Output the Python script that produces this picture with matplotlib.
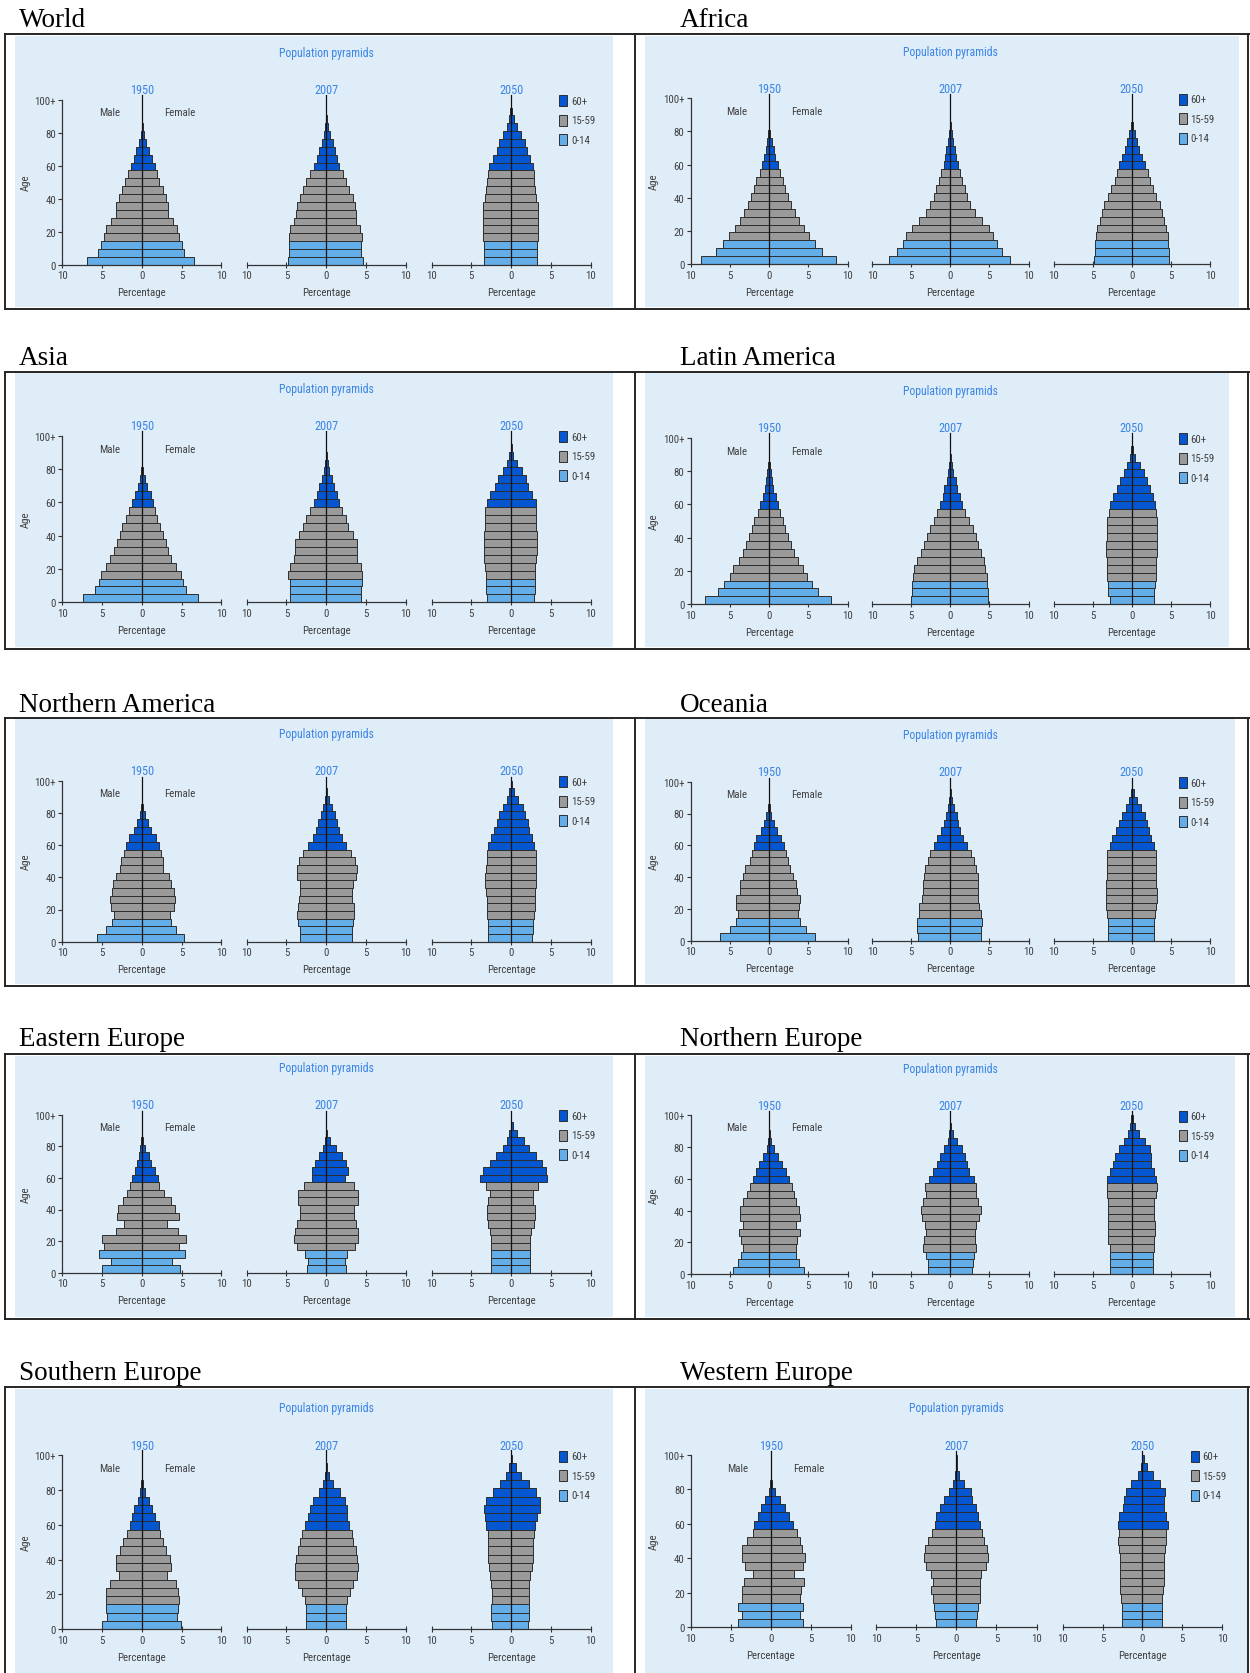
import matplotlib
matplotlib.use('Agg')
import matplotlib.pyplot as plt
from matplotlib.patches import Rectangle
from matplotlib import font_manager

# 21 five-year age groups, 0-4 ... 100+
AGE_GROUPS = ['0-4', '5-9', '10-14', '15-19', '20-24', '25-29', '30-34', '35-39',
              '40-44', '45-49', '50-54', '55-59', '60-64', '65-69', '70-74', '75-79',
              '80-84', '85-89', '90-94', '95-99', '100+']
YEARS = ['1950', '2007', '2050']
REGIONS = ['World', 'Africa', 'Asia', 'Latin America', 'Northern America', 'Oceania',
           'Eastern Europe', 'Northern Europe', 'Southern Europe', 'Western Europe']
X_TICKS = [-10, -5, 0, 5, 10]
X_TICK_LABELS = ['10', '5', '0', '5', '10']
Y_TICKS = [0, 20, 40, 60, 80, 100]
Y_TICK_LABELS = ['0', '20', '40', '60', '80', '100+']
LEGEND_LABELS = ['60+', '15-59', '0-14']

# percentage of each sex in the age group
world_1950_m = [6.9, 5.5, 5.2, 4.8, 4.5, 3.9, 3.3, 3.2, 2.9, 2.5, 2.1, 1.7, 1.4, 1.0, 0.7, 0.4, 0.17, 0.05, 0.01, 0, 0]
world_1950_f = [6.5, 5.3, 5.0, 4.7, 4.4, 3.9, 3.3, 3.3, 3.0, 2.65, 2.2, 1.9, 1.6, 1.25, 0.85, 0.5, 0.25, 0.08, 0.02, 0, 0]
world_2007_m = [4.8, 4.7, 4.7, 4.7, 4.5, 4.0, 3.85, 3.7, 3.3, 2.95, 2.5, 2.05, 1.5, 1.2, 0.9, 0.58, 0.3, 0.12, 0.03, 0.01, 0]
world_2007_f = [4.6, 4.4, 4.4, 4.5, 4.3, 3.8, 3.7, 3.6, 3.35, 2.85, 2.55, 2.15, 1.65, 1.4, 1.15, 0.82, 0.53, 0.25, 0.08, 0.02, 0]
world_2050_m = [3.45, 3.45, 3.45, 3.55, 3.55, 3.55, 3.55, 3.55, 3.3, 3.1, 3.0, 2.9, 2.75, 2.25, 1.8, 1.45, 0.95, 0.5, 0.24, 0.08, 0.02]
world_2050_f = [3.3, 3.3, 3.3, 3.4, 3.4, 3.4, 3.4, 3.4, 3.1, 3.0, 2.9, 2.9, 2.8, 2.4, 2.05, 1.75, 1.25, 0.77, 0.39, 0.15, 0.04]

africa_1950_m = [8.7, 6.7, 5.8, 5.05, 4.35, 3.75, 3.2, 2.7, 2.3, 1.95, 1.6, 1.2, 0.9, 0.7, 0.4, 0.25, 0.12, 0.04, 0.01, 0, 0]
africa_1950_f = [8.55, 6.7, 5.85, 5.1, 4.4, 3.8, 3.3, 2.8, 2.45, 2.05, 1.75, 1.45, 1.1, 0.8, 0.6, 0.35, 0.18, 0.06, 0.01, 0, 0]
africa_2007_m = [7.85, 6.8, 6.05, 5.6, 4.85, 4.05, 3.15, 2.55, 2.1, 1.8, 1.5, 1.2, 0.85, 0.65, 0.5, 0.3, 0.15, 0.05, 0.01, 0, 0]
africa_2007_f = [7.65, 6.65, 6.0, 5.5, 4.9, 4.0, 3.15, 2.5, 2.15, 1.85, 1.55, 1.3, 0.95, 0.75, 0.6, 0.35, 0.18, 0.07, 0.01, 0, 0]
africa_2050_m = [4.8, 4.7, 4.7, 4.6, 4.4, 4.05, 3.8, 3.5, 3.05, 2.6, 2.2, 1.85, 1.6, 1.25, 0.85, 0.55, 0.3, 0.1, 0.03, 0, 0]
africa_2050_f = [4.8, 4.7, 4.6, 4.6, 4.4, 4.15, 3.9, 3.55, 3.15, 2.65, 2.35, 2.05, 1.65, 1.35, 0.95, 0.65, 0.35, 0.15, 0.04, 0.01, 0]

asia_1950_m = [7.4, 5.85, 5.4, 5.1, 4.55, 4.0, 3.45, 3.1, 2.75, 2.45, 1.95, 1.65, 1.3, 0.9, 0.5, 0.26, 0.1, 0.03, 0.01, 0, 0]
asia_1950_f = [7.1, 5.6, 5.2, 4.9, 4.3, 3.7, 3.3, 3.0, 2.65, 2.3, 1.95, 1.65, 1.45, 1.1, 0.7, 0.36, 0.12, 0.04, 0.01, 0, 0]
asia_2007_m = [4.55, 4.55, 4.55, 4.8, 4.55, 4.1, 3.95, 3.95, 3.4, 2.95, 2.6, 2.1, 1.5, 1.15, 0.85, 0.55, 0.3, 0.12, 0.03, 0.01, 0]
asia_2007_f = [4.4, 4.4, 4.45, 4.55, 4.4, 3.9, 3.9, 3.9, 3.4, 2.8, 2.55, 2.05, 1.55, 1.35, 1.0, 0.7, 0.4, 0.18, 0.05, 0.01, 0]
asia_2050_m = [3.05, 3.2, 3.2, 3.2, 3.3, 3.45, 3.45, 3.45, 3.35, 3.25, 3.25, 3.25, 3.05, 2.6, 2.0, 1.6, 1.0, 0.5, 0.2, 0.06, 0.01]
asia_2050_f = [2.9, 3.0, 3.0, 3.0, 3.0, 3.2, 3.3, 3.3, 3.25, 3.1, 3.1, 3.1, 3.1, 2.65, 2.2, 1.9, 1.4, 0.8, 0.3, 0.1, 0.02]

latam_1950_m = [8.15, 6.5, 5.7, 5.0, 4.55, 3.85, 3.25, 2.9, 2.5, 2.2, 1.85, 1.45, 1.1, 0.8, 0.55, 0.35, 0.2, 0.08, 0.02, 0, 0]
latam_1950_f = [7.9, 6.3, 5.5, 4.8, 4.35, 3.75, 3.15, 2.8, 2.4, 2.05, 1.8, 1.45, 1.15, 0.85, 0.55, 0.35, 0.2, 0.1, 0.03, 0.01, 0]
latam_2007_m = [5.0, 4.95, 4.85, 4.8, 4.6, 4.3, 3.8, 3.4, 3.0, 2.55, 2.1, 1.7, 1.25, 0.95, 0.75, 0.45, 0.25, 0.1, 0.03, 0.01, 0]
latam_2007_f = [4.8, 4.8, 4.75, 4.7, 4.5, 4.3, 3.95, 3.6, 3.3, 2.85, 2.45, 1.9, 1.55, 1.25, 0.9, 0.7, 0.4, 0.2, 0.07, 0.02, 0]
latam_2050_m = [2.85, 3.0, 3.1, 3.15, 3.2, 3.2, 3.25, 3.3, 3.2, 3.2, 3.15, 2.9, 2.75, 2.4, 1.95, 1.55, 1.05, 0.55, 0.25, 0.06, 0.01]
latam_2050_f = [2.85, 2.85, 2.95, 3.05, 3.1, 3.15, 3.2, 3.25, 3.25, 3.25, 3.2, 3.15, 3.0, 2.75, 2.35, 2.0, 1.5, 1.0, 0.45, 0.15, 0.03]

namer_1950_m = [5.6, 4.45, 3.7, 3.5, 3.9, 4.05, 3.7, 3.6, 3.3, 2.75, 2.6, 2.3, 2.05, 1.65, 1.05, 0.65, 0.3, 0.1, 0.03, 0, 0]
namer_1950_f = [5.35, 4.3, 3.7, 3.55, 4.0, 4.1, 4.0, 3.7, 3.4, 2.7, 2.7, 2.45, 2.1, 1.8, 1.2, 0.8, 0.4, 0.15, 0.04, 0.01, 0]
namer_2007_m = [3.35, 3.35, 3.55, 3.65, 3.55, 3.4, 3.3, 3.3, 3.65, 3.7, 3.4, 2.9, 2.25, 1.7, 1.3, 1.05, 0.65, 0.35, 0.15, 0.04, 0.01]
namer_2007_f = [3.3, 3.25, 3.4, 3.5, 3.5, 3.25, 3.25, 3.4, 3.75, 3.9, 3.6, 3.1, 2.5, 1.95, 1.65, 1.4, 1.05, 0.7, 0.3, 0.1, 0.02]
namer_2050_m = [2.85, 2.9, 2.9, 3.0, 3.05, 3.05, 3.15, 3.3, 3.3, 3.15, 3.05, 3.05, 2.85, 2.55, 2.2, 1.8, 1.45, 0.95, 0.5, 0.2, 0.05]
namer_2050_f = [2.7, 2.75, 2.75, 2.9, 3.0, 3.0, 3.0, 3.15, 3.2, 3.1, 3.1, 3.1, 2.9, 2.7, 2.3, 2.1, 1.8, 1.45, 0.9, 0.4, 0.12]

oceania_1950_m = [6.25, 5.0, 4.25, 3.95, 4.15, 4.15, 3.75, 3.75, 3.3, 3.0, 2.45, 2.15, 1.95, 1.6, 1.05, 0.65, 0.35, 0.12, 0.03, 0, 0]
oceania_1950_f = [5.85, 4.75, 3.95, 3.7, 3.8, 3.95, 3.55, 3.5, 3.05, 2.65, 2.4, 2.15, 1.85, 1.55, 1.0, 0.6, 0.3, 0.15, 0.04, 0.01, 0]
oceania_2007_m = [4.1, 4.2, 4.2, 4.05, 3.95, 3.55, 3.45, 3.45, 3.4, 3.25, 2.9, 2.6, 2.1, 1.65, 1.2, 0.85, 0.6, 0.3, 0.1, 0.02, 0]
oceania_2007_f = [3.95, 3.95, 4.0, 3.9, 3.7, 3.55, 3.55, 3.6, 3.5, 3.35, 3.0, 2.6, 2.15, 1.65, 1.3, 1.05, 0.9, 0.5, 0.2, 0.06, 0.01]
oceania_2050_m = [3.05, 3.05, 3.05, 3.15, 3.25, 3.35, 3.35, 3.3, 3.2, 3.2, 3.2, 3.15, 2.85, 2.5, 2.0, 1.65, 1.25, 0.8, 0.4, 0.15, 0.03]
oceania_2050_f = [2.9, 2.9, 2.9, 3.0, 3.1, 3.2, 3.2, 3.1, 3.05, 3.1, 3.1, 3.05, 2.85, 2.5, 2.2, 2.0, 1.65, 1.2, 0.7, 0.3, 0.06]

eeurope_1950_m = [4.95, 3.9, 5.35, 4.7, 5.0, 3.25, 2.25, 3.1, 3.0, 2.4, 1.9, 1.55, 1.2, 0.9, 0.6, 0.4, 0.25, 0.1, 0.02, 0, 0]
eeurope_1950_f = [4.8, 3.8, 5.4, 4.65, 5.55, 4.5, 3.2, 4.6, 4.1, 3.6, 2.8, 2.2, 2.05, 1.6, 1.2, 0.85, 0.4, 0.15, 0.04, 0.01, 0]
eeurope_2007_m = [2.45, 2.35, 2.65, 3.65, 4.1, 3.95, 3.7, 3.25, 3.3, 3.55, 3.5, 2.8, 1.8, 1.8, 1.35, 0.95, 0.4, 0.2, 0.08, 0.01, 0]
eeurope_2007_f = [2.45, 2.35, 2.6, 3.6, 4.05, 3.95, 3.8, 3.5, 3.55, 3.95, 4.05, 3.55, 2.35, 2.8, 2.45, 2.0, 1.25, 0.5, 0.15, 0.03, 0]
eeurope_2050_m = [2.5, 2.55, 2.55, 2.55, 2.55, 2.7, 2.9, 3.05, 3.05, 2.85, 2.65, 3.15, 3.85, 3.5, 2.65, 1.9, 1.05, 0.55, 0.2, 0.05, 0.01]
eeurope_2050_f = [2.35, 2.4, 2.4, 2.4, 2.4, 2.5, 2.85, 3.0, 3.0, 2.8, 2.8, 3.4, 4.5, 4.4, 3.9, 3.15, 2.25, 1.6, 0.8, 0.25, 0.04]

neurope_1950_m = [4.6, 4.0, 3.55, 3.3, 3.55, 3.8, 3.3, 3.7, 3.7, 3.3, 2.8, 2.4, 2.05, 1.7, 1.3, 0.8, 0.3, 0.15, 0.04, 0.01, 0]
neurope_1950_f = [4.4, 3.8, 3.5, 3.4, 3.55, 3.9, 3.5, 3.9, 3.8, 3.5, 3.15, 2.9, 2.6, 2.2, 1.7, 1.2, 0.6, 0.3, 0.08, 0.01, 0]
neurope_2007_m = [2.85, 2.85, 3.15, 3.45, 3.35, 3.15, 3.25, 3.55, 3.75, 3.45, 3.05, 3.2, 2.75, 2.15, 1.7, 1.3, 0.8, 0.35, 0.15, 0.04, 0.01]
neurope_2007_f = [2.75, 2.85, 3.05, 3.3, 3.2, 3.15, 3.3, 3.7, 3.95, 3.6, 3.25, 3.3, 3.05, 2.45, 2.15, 1.85, 1.5, 0.9, 0.4, 0.1, 0.02]
neurope_2050_m = [2.75, 2.75, 2.75, 2.85, 3.05, 3.1, 3.1, 3.0, 3.0, 3.0, 3.15, 3.15, 3.2, 2.8, 2.45, 2.15, 1.7, 1.05, 0.45, 0.2, 0.05]
neurope_2050_f = [2.65, 2.65, 2.65, 2.8, 2.85, 3.0, 3.0, 2.85, 2.85, 2.9, 3.05, 3.25, 3.15, 2.8, 2.5, 2.5, 2.35, 1.75, 0.95, 0.4, 0.12]

seurope_1950_m = [5.05, 4.35, 4.55, 4.55, 4.45, 3.95, 2.85, 3.2, 3.2, 2.75, 2.35, 1.85, 1.55, 1.25, 0.95, 0.55, 0.25, 0.1, 0.03, 0, 0]
seurope_1950_f = [4.95, 4.35, 4.5, 4.65, 4.5, 4.3, 3.2, 3.6, 3.55, 3.05, 2.7, 2.3, 2.15, 1.6, 1.25, 0.9, 0.4, 0.2, 0.05, 0.01, 0]
seurope_2007_m = [2.6, 2.6, 2.6, 2.7, 3.1, 3.6, 3.95, 3.95, 3.85, 3.6, 3.3, 3.1, 2.65, 2.3, 2.1, 1.65, 0.95, 0.35, 0.15, 0.03, 0.01]
seurope_2007_f = [2.45, 2.45, 2.5, 2.65, 2.95, 3.4, 3.9, 3.95, 3.9, 3.7, 3.35, 3.2, 2.85, 2.65, 2.65, 2.35, 1.7, 0.8, 0.3, 0.08, 0.01]
seurope_2050_m = [2.45, 2.5, 2.5, 2.45, 2.4, 2.5, 2.6, 2.8, 2.95, 2.95, 2.9, 2.95, 3.15, 3.3, 3.4, 3.1, 2.3, 1.4, 0.6, 0.2, 0.04]
seurope_2050_f = [2.2, 2.3, 2.3, 2.3, 2.25, 2.3, 2.35, 2.6, 2.8, 2.8, 2.8, 2.9, 3.0, 3.3, 3.65, 3.7, 3.1, 2.3, 1.25, 0.6, 0.15]

weurope_1950_m = [4.05, 3.65, 4.05, 3.65, 3.65, 3.35, 2.2, 3.25, 3.55, 3.55, 2.95, 2.25, 2.05, 1.65, 1.25, 0.75, 0.25, 0.1, 0.03, 0, 0]
weurope_1950_f = [4.05, 3.65, 4.05, 3.7, 3.8, 4.2, 2.85, 4.05, 4.3, 3.95, 3.65, 3.25, 2.75, 2.3, 1.8, 1.15, 0.55, 0.2, 0.05, 0.01, 0]
weurope_2007_m = [2.55, 2.65, 2.8, 2.9, 3.15, 2.9, 3.2, 3.8, 4.1, 3.9, 3.5, 3.05, 2.65, 2.5, 2.0, 1.55, 0.95, 0.45, 0.15, 0.04, 0.01]
weurope_2007_f = [2.45, 2.55, 2.75, 2.9, 3.0, 2.9, 3.1, 3.75, 4.0, 3.8, 3.5, 3.25, 2.9, 2.75, 2.4, 2.0, 1.85, 0.9, 0.35, 0.1, 0.02]
weurope_2050_m = [2.55, 2.55, 2.55, 2.65, 2.8, 2.85, 2.85, 2.85, 2.85, 2.95, 3.05, 2.95, 3.1, 2.9, 2.5, 2.3, 2.1, 1.4, 0.6, 0.2, 0.05]
weurope_2050_f = [2.4, 2.45, 2.45, 2.5, 2.6, 2.65, 2.65, 2.7, 2.75, 2.85, 3.0, 3.0, 3.2, 3.0, 2.75, 2.75, 2.8, 2.2, 1.3, 0.6, 0.15]

PYRAMIDS = {
    'World': [(world_1950_m, world_1950_f), (world_2007_m, world_2007_f), (world_2050_m, world_2050_f)],
    'Africa': [(africa_1950_m, africa_1950_f), (africa_2007_m, africa_2007_f), (africa_2050_m, africa_2050_f)],
    'Asia': [(asia_1950_m, asia_1950_f), (asia_2007_m, asia_2007_f), (asia_2050_m, asia_2050_f)],
    'Latin America': [(latam_1950_m, latam_1950_f), (latam_2007_m, latam_2007_f), (latam_2050_m, latam_2050_f)],
    'Northern America': [(namer_1950_m, namer_1950_f), (namer_2007_m, namer_2007_f), (namer_2050_m, namer_2050_f)],
    'Oceania': [(oceania_1950_m, oceania_1950_f), (oceania_2007_m, oceania_2007_f), (oceania_2050_m, oceania_2050_f)],
    'Eastern Europe': [(eeurope_1950_m, eeurope_1950_f), (eeurope_2007_m, eeurope_2007_f), (eeurope_2050_m, eeurope_2050_f)],
    'Northern Europe': [(neurope_1950_m, neurope_1950_f), (neurope_2007_m, neurope_2007_f), (neurope_2050_m, neurope_2050_f)],
    'Southern Europe': [(seurope_1950_m, seurope_1950_f), (seurope_2007_m, seurope_2007_f), (seurope_2050_m, seurope_2050_f)],
    'Western Europe': [(weurope_1950_m, weurope_1950_f), (weurope_2007_m, weurope_2007_f), (weurope_2050_m, weurope_2050_f)],
}

# colours
C_OLD = '#0457d0'
C_ADULT = '#9a9a9a'
C_YOUNG = '#63aee9'
EDGE = '#2e2e2e'
BG = '#dfedf9'
BLUE_TXT = '#3a84e6'
TXT = '#404040'
FRAME = '#262626'

names = {f.name for f in font_manager.fontManager.ttflist}
SANS = 'DejaVu Sans'
for cand in ['Liberation Sans Narrow', 'Roboto Condensed', 'Open Sans Condensed']:
    if cand in names:
        SANS = cand
        break
SERIF = 'Liberation Serif'
plt.rcParams['font.family'] = [SANS, 'DejaVu Sans']

W, H = 1250, 1674
fig = plt.figure(figsize=(W / 100, H / 100), dpi=100)
fig.patch.set_facecolor('white')

# page layer in pixel coordinates (y down)
page = fig.add_axes([0, 0, 1, 1])
page.set_xlim(0, W)
page.set_ylim(H, 0)
page.axis('off')

ROW_TOP = [35, 372.7, 718.8, 1055.2, 1388.3]
ROW_BOT = [310, 650.4, 986.5, 1319.5, H + 5]
ROW_TITLE_Y = [20, 358, 705, 1039, 1373]
RIGHT_BG_END = [1239, 1229, 1235, 1235, 1248]
ROW_Y_LEFT = [(265.7, 100.7), (603.3, 436.7), (942.7, 781.7), (1273.7, 1115.7), (1630.3, 1456)]
ROW_Y_RIGHT = [(265, 99.3), (605.3, 438.7), (941.7, 782.7), (1275.3, 1116), (1628.3, 1456)]
LEFT_X = [(62.3, 221.5), (246.7, 405.7), (431.5, 590.5)]
RIGHT_X = [(690.5, 847.5), (872, 1028.5), (1053.6, 1210)]
WEU_X = [(691, 850.6), (876.4, 1036.5), (1062.8, 1222.1)]

for r in range(5):
    top, bot = ROW_TOP[r], ROW_BOT[r]
    page.add_patch(Rectangle((14.5, top + 1.5), 613 - 14.5, bot - top - 3.5,
                             facecolor=BG, edgecolor='none', zorder=0))
    page.add_patch(Rectangle((644.5, top + 1.5), RIGHT_BG_END[r] - 644.5, bot - top - 3.5,
                             facecolor=BG, edgecolor='none', zorder=0))
    page.plot([5, W], [top, top], color=FRAME, lw=1.4, zorder=1)
    if r < 4:
        page.plot([5, W], [bot, bot], color=FRAME, lw=1.4, zorder=1)
    for xv in (5, 635, W - 2):
        page.plot([xv, xv], [top, min(bot, H)], color=FRAME, lw=1.4, zorder=1)


def draw_pyramid(ax, male, female, first):
    n = len(AGE_GROUPS)
    h = 100 / n
    ys = [i * h for i in range(n)]
    cols = [C_YOUNG if i < 3 else C_ADULT if i < 12 else C_OLD for i in range(n)]
    ax.barh(ys, [-v for v in male], height=h, align='edge', color=cols,
            edgecolor=EDGE, linewidth=0.7, zorder=2)
    ax.barh(ys, female, height=h, align='edge', color=cols,
            edgecolor=EDGE, linewidth=0.7, zorder=2)
    ax.axvline(0, ymin=0, ymax=1.026, color='#111111', lw=0.9, zorder=4, clip_on=False)
    ax.set_xlim(-10, 10)
    ax.set_ylim(0, 100)
    ax.set_facecolor('none')
    ax.spines['top'].set_visible(False)
    ax.spines['right'].set_visible(False)
    ax.spines['bottom'].set_color('#333333')
    ax.spines['bottom'].set_linewidth(0.9)
    ax.set_xticks(X_TICKS, X_TICK_LABELS)
    ax.tick_params(axis='x', direction='inout', length=5, width=0.8, color='#333333',
                   labelsize=7.8, labelcolor=TXT, pad=1.5)
    ax.set_xlabel('Percentage', fontsize=7.8, color=TXT, labelpad=5)
    if first:
        ax.spines['left'].set_color('#333333')
        ax.spines['left'].set_linewidth(0.9)
        ax.set_yticks(Y_TICKS, Y_TICK_LABELS)
        ax.tick_params(axis='y', direction='out', length=3, width=0.8, color='#333333',
                       labelsize=7.8, labelcolor=TXT, pad=1.5)
        ax.set_ylabel('Age', fontsize=7.8, color=TXT, labelpad=3)
        ax.text(-4.1, 92.3, 'Male', ha='center', va='center', fontsize=7.8, color=TXT)
        ax.text(4.8, 92.3, 'Female', ha='center', va='center', fontsize=7.8, color=TXT)
    else:
        ax.spines['left'].set_visible(False)
        ax.set_yticks([])


for i, region in enumerate(REGIONS):
    r, c = divmod(i, 2)
    if c == 0:
        xs, (y0, y100), title_x = LEFT_X, ROW_Y_LEFT[r], 19
    else:
        xs = WEU_X if region == 'Western Europe' else RIGHT_X
        (y0, y100), title_x = ROW_Y_RIGHT[r], 680
    page.text(title_x, ROW_TITLE_Y[r], region, family=SERIF, fontsize=19.5,
              color='black', ha='left', va='center')

    for k, year in enumerate(YEARS):
        x0, x1 = xs[k]
        ax = fig.add_axes([x0 / W, 1 - y0 / H, (x1 - x0) / W, (y0 - y100) / H])
        male, female = PYRAMIDS[region][k]
        draw_pyramid(ax, male, female, k == 0)
        ax.set_title(year, color=BLUE_TXT, fontsize=8.8, pad=4.5)
        if k == 1:
            ax.annotate('Population pyramids', xy=(0.5, 1), xycoords='axes fraction',
                        xytext=(0, 47), textcoords='offset pixels', ha='center',
                        va='center', fontsize=8.5, color=BLUE_TXT)

    # legend beside the 2050 pyramid
    lx = xs[2][1] - 31.5
    for j, (lab, col) in enumerate(zip(LEGEND_LABELS, [C_OLD, C_ADULT, C_YOUNG])):
        cy = y100 + 1 + j * 19.5
        page.add_patch(Rectangle((lx, cy - 5.5), 8, 11, facecolor=col,
                                 edgecolor=EDGE, lw=0.7, zorder=3))
        page.text(lx + 12, cy, lab, fontsize=7.8, color=TXT, ha='left', va='center')

fig.savefig('out.png', dpi=100, facecolor='white')
